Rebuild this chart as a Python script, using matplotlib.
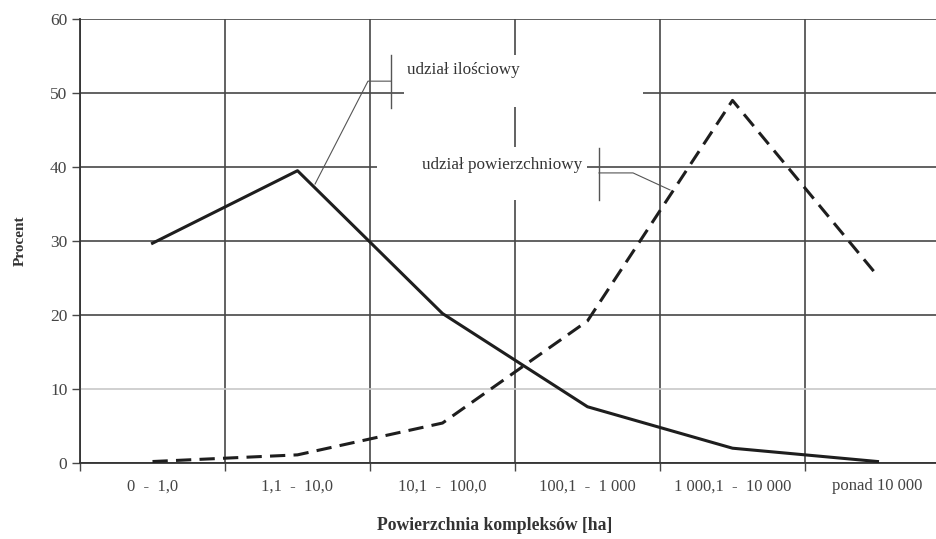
import numpy as np
import matplotlib
matplotlib.use("Agg")
import matplotlib.pyplot as plt
from matplotlib.patches import Rectangle

# size classes of forest complexes [ha]
categories = ["0  -  1,0", "1,1  -  10,0", "10,1  -  100,0", "100,1  -  1 000",
              "1 000,1  -  10 000", "ponad 10 000"]
# share in number of complexes [%]
udzial_ilosciowy = [29.7, 39.5, 20.2, 7.6, 2.0, 0.2]
# share in area [%]
udzial_powierzchniowy = [0.2, 1.1, 5.4, 19.2, 49.0, 25.3]

plt.rcParams['font.family'] = ['Liberation Serif', 'DejaVu Serif']

fig = plt.figure(figsize=(9.37, 5.39), dpi=100)
ax = fig.add_axes([80/937, 76/539, 870/937, 444/539])

x = np.arange(len(categories))
grid_col = "#474747"

ax.set_xlim(-0.5, len(categories) - 0.5)
ax.set_ylim(0, 60)

# major ticks on category boundaries (grid), minor ticks carry the labels
ax.set_xticks(np.arange(-0.5, len(categories)), labels=[])
ax.set_xticks(x, labels=categories, minor=True)
ax.set_yticks(np.arange(0, 61, 10))
ax.tick_params(axis="x", which="major", length=6, width=1, color=grid_col)
ax.tick_params(axis="x", which="minor", length=0, pad=11, labelsize=12, labelcolor="#444444")
ax.tick_params(axis="y", length=6, width=1, color=grid_col, labelsize=12.5, labelcolor="#444444", pad=3)

ax.grid(True, which="major", color=grid_col, linewidth=1.2, zorder=1)
ax.set_axisbelow(True)
ax.get_ygridlines()[1].set_color("#c8c8c8")

for s in ["top", "right"]:
    ax.spines[s].set_visible(False)
for s in ["left", "bottom"]:
    ax.spines[s].set_color("#333333")
    ax.spines[s].set_linewidth(1.3)

# white boxes behind the labels that break the gridlines
ax.add_patch(Rectangle((1.734, 48.1), 1.649, 7.0, facecolor="white", edgecolor="none", zorder=1.5))
ax.add_patch(Rectangle((1.548, 35.5), 1.449, 7.2, facecolor="white", edgecolor="none", zorder=1.5))

ax.plot(x, udzial_ilosciowy, color="#1e1e1e", linewidth=2.2, zorder=3,
        solid_joinstyle="round")
ax.plot(x, udzial_powierzchniowy, color="#1e1e1e", linewidth=2.2, zorder=3,
        dashes=(5, 2.7))

# leader lines
lc = "#555555"
ax.plot([1.645, 1.645], [55.1, 48.0], color=lc, linewidth=1.0, zorder=3)
ax.plot([1.645, 1.486, 1.121], [51.6, 51.6, 37.7], color=lc, linewidth=0.8, zorder=3)
ax.plot([3.079, 3.079], [42.6, 35.5], color=lc, linewidth=1.0, zorder=3)
ax.plot([3.079, 3.314, 3.569], [39.2, 39.2, 36.9], color=lc, linewidth=0.8, zorder=3)

ax.text(1.755, 53.1, "udział ilościowy", fontsize=12.3, color="#333333", va="center", zorder=4)
ax.text(1.859, 40.3, "udział powierzchniowy", fontsize=12.3, color="#333333", va="center", zorder=4)

ax.set_ylabel("Procent", fontsize=11, fontweight="bold", color="#333333", labelpad=17)
fig.text(495/937, 1 - 525/539, "Powierzchnia kompleksów [ha]", fontsize=12.7,
         fontweight="bold", color="#333333", ha="center", va="center")

fig.savefig("out.png", dpi=100)
